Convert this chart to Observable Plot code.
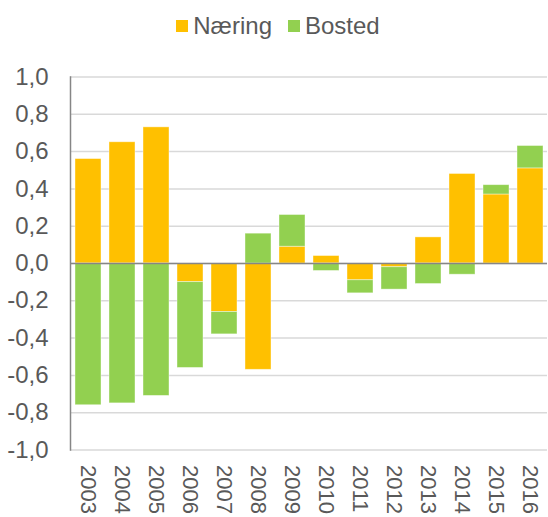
<!DOCTYPE html>
<html>
<head>
<meta charset="utf-8">
<script src="https://cdn.jsdelivr.net/npm/d3@7"></script>
<script src="https://cdn.jsdelivr.net/npm/@observablehq/plot@0.6"></script>
<style>
  body { margin: 0; background: #fff; font-family: "Liberation Sans", Arial, sans-serif; }
  #legend { height: 50px; display: flex; justify-content: center; align-items: center; gap: 16px; font-size: 24px; color: #595959; box-sizing: border-box; padding-top: 2px; padding-left: 8px; }
  .item { display: flex; align-items: center; gap: 5px; }
  .sw { width: 12px; height: 12px; display: inline-block; }
</style>
</head>
<body>
<div id="legend"></div>
<div id="chart"></div>
<script>
const years = ["2003","2004","2005","2006","2007","2008","2009","2010","2011","2012","2013","2014","2015","2016"];
const naering = [0.56, 0.65, 0.73, -0.10, -0.26, -0.57, 0.09, 0.04, -0.09, -0.02, 0.14, 0.48, 0.37, 0.51];
const bosted  = [-0.76, -0.75, -0.71, -0.46, -0.12, 0.16, 0.17, -0.04, -0.07, -0.12, -0.11, -0.06, 0.05, 0.12];
const seriesNames = ["Næring", "Bosted"];
const seriesColors = ["#FFC000", "#92D050"];
const yTicks = [-1, -0.8, -0.6, -0.4, -0.2, 0, 0.2, 0.4, 0.6, 0.8, 1.0];

const data = [];
years.forEach((y, i) => {
  data.push({year: y, series: seriesNames[0], value: naering[i]});
  data.push({year: y, series: seriesNames[1], value: bosted[i]});
});

const legend = document.getElementById("legend");
seriesNames.forEach((s, i) => {
  const it = document.createElement("span");
  it.className = "item";
  it.innerHTML = `<span class="sw" style="background:${seriesColors[i]}"></span><span>${s}</span>`;
  legend.appendChild(it);
});

const fmt = d => d3.format(".1f")(d).replace(".", ",").replace("−", "-");

const chart = Plot.plot({
  width: 548,
  height: 467,
  marginTop: 26.5,
  marginBottom: 67.5,
  marginLeft: 70,
  marginRight: 1,
  style: { fontFamily: "Liberation Sans, Arial, sans-serif", fontSize: "24px", color: "#595959", background: "#fff" },
  x: { domain: years, paddingInner: 0.24, paddingOuter: 0.12, label: null },
  y: { domain: [-1, 1], label: null },
  color: { domain: seriesNames, range: seriesColors },
  marks: [
    Plot.gridY(yTicks, { stroke: "#D9D9D9", strokeOpacity: 1, strokeWidth: 1.5 }),
    Plot.barY(data, Plot.stackY({ x: "year", y: "value", fill: "series", stroke: "#ffffff", strokeOpacity: 0.5, strokeWidth: 0.8 })),
    Plot.ruleY([0], { stroke: "#868686", strokeWidth: 1.5 }),
    Plot.frame({ anchor: "left", stroke: "#868686", strokeWidth: 1.5 }),
    Plot.axisY(yTicks, { tickSize: 0, tickPadding: 22, tickFormat: fmt, fill: "#595959", fontSize: 24 }),
    Plot.axisX({ tickSize: 0, tickRotate: 90, tickPadding: 15, fill: "#595959", fontSize: 22 })
  ]
});
document.getElementById("chart").appendChild(chart);
</script>
</body>
</html>
